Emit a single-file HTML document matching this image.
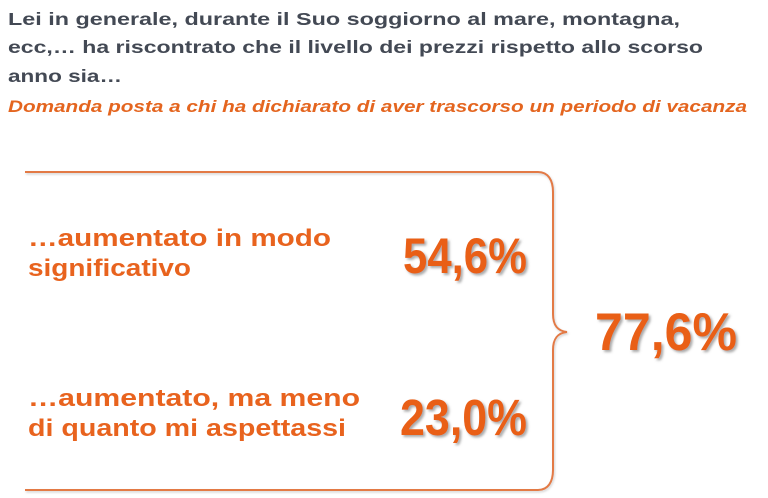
<!DOCTYPE html>
<html>
<head>
<meta charset="utf-8">
<style>
  html,body{margin:0;padding:0;background:#ffffff;}
  body{width:768px;height:498px;overflow:hidden;}
  svg{display:block;}
  .t{font-family:"Liberation Sans",Arial,sans-serif;font-weight:bold;}
</style>
</head>
<body>
<svg width="768" height="498" viewBox="0 0 768 498" xmlns="http://www.w3.org/2000/svg">
  <defs>
    <filter id="sh" x="-10%" y="-10%" width="130%" height="140%">
      <feDropShadow dx="2" dy="2" stdDeviation="1.3" flood-color="#6f6f6f" flood-opacity="0.6"/>
    </filter>
    <filter id="sh2" x="-5%" y="-5%" width="110%" height="120%">
      <feDropShadow dx="1" dy="1.5" stdDeviation="1" flood-color="#999" flood-opacity="0.45"/>
    </filter>
  </defs>

  <!-- Title -->
  <g class="t" fill="#434954" font-size="17.5">
    <text x="8" y="25" textLength="672" lengthAdjust="spacingAndGlyphs">Lei in generale, durante il Suo soggiorno al mare, montagna,</text>
    <text x="8" y="53" textLength="695" lengthAdjust="spacingAndGlyphs">ecc,… ha riscontrato che il livello dei prezzi rispetto allo scorso</text>
    <text x="8" y="82" textLength="114" lengthAdjust="spacingAndGlyphs">anno sia…</text>
  </g>
  <text class="t" x="8" y="112" font-size="17" font-style="italic" fill="#e4651f" textLength="739" lengthAdjust="spacingAndGlyphs">Domanda posta a chi ha dichiarato di aver trascorso un periodo di vacanza</text>

  <!-- Bracket -->
  <path d="M25,172 H538 C548,172 553,180 553,192 V314 C553,326 558,331 567,332 C558,333 553,338 553,350 V470 C553,482 548,490 538,490 H25"
        fill="none" stroke="#e37a44" stroke-width="2" filter="url(#sh2)"/>

  <!-- Labels -->
  <g class="t" fill="#e8631e" font-size="24">
    <text x="28" y="246" textLength="303" lengthAdjust="spacingAndGlyphs">…aumentato in modo</text>
    <text x="28" y="276" textLength="163" lengthAdjust="spacingAndGlyphs">significativo</text>
    <text x="28" y="406" textLength="332" lengthAdjust="spacingAndGlyphs">…aumentato, ma meno</text>
    <text x="28" y="436" textLength="318" lengthAdjust="spacingAndGlyphs">di quanto mi aspettassi</text>
  </g>

  <!-- Percentages -->
  <g class="t" fill="#e95f18" filter="url(#sh)">
    <text x="403" y="273" font-size="50" textLength="124" lengthAdjust="spacingAndGlyphs">54,6%</text>
    <text x="400" y="435" font-size="51" textLength="127" lengthAdjust="spacingAndGlyphs">23,0%</text>
    <text x="595" y="350" font-size="53" textLength="142" lengthAdjust="spacingAndGlyphs">77,6%</text>
  </g>
</svg>
</body>
</html>
